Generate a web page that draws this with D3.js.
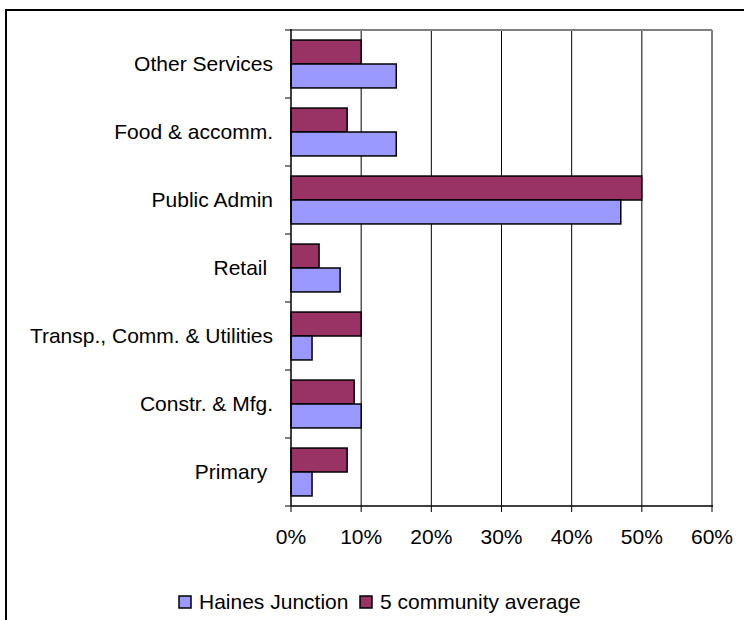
<!DOCTYPE html>
<html>
<head>
<meta charset="utf-8">
<script src="https://cdn.jsdelivr.net/npm/d3@7"></script>
<style>
  body { margin: 0; background: #fff; }
  svg { display: block; }
  text { font-family: "Liberation Sans", Arial, sans-serif; fill: #000; }
</style>
</head>
<body>
<svg id="chart" width="744" height="620"></svg>
<script>
const categories = ["Other Services", "Food & accomm.", "Public Admin", "Retail ", "Transp., Comm. & Utilities", "Constr. & Mfg.", "Primary "];
const hainesJunction = [15, 15, 47, 7, 3, 10, 3];
const communityAverage = [10, 8, 50, 4, 10, 9, 8];
const seriesNames = ["Haines Junction", "5 community average"];
const xTicks = [0, 10, 20, 30, 40, 50, 60];

const colors = { haines: "#9999FF", avg: "#993366" };

const svg = d3.select("#chart");
const plot = { left: 291, right: 712, top: 30, bottom: 506 };
const fontSize = 21;

// outer frame
svg.append("rect").attr("x", 6).attr("y", 10).attr("width", 800).attr("height", 700)
  .attr("fill", "#fff").attr("stroke", "#000").attr("stroke-width", 2);

const x = d3.scaleLinear().domain([0, 60]).range([plot.left, plot.right]);
const y = d3.scaleBand().domain(categories).range([plot.top, plot.bottom]);
const inner = d3.scaleBand().domain(["avg", "haines"]).range([0, y.bandwidth()]).paddingInner(0).paddingOuter(0.42);

// gridlines
svg.append("g").selectAll("line").data(xTicks.slice(1))
  .join("line")
  .attr("x1", d => x(d)).attr("x2", d => x(d))
  .attr("y1", plot.top).attr("y2", plot.bottom)
  .attr("stroke", d => d === 60 ? "#808080" : "#000").attr("stroke-width", d => d === 60 ? 2 : 1);

// plot area top border
svg.append("line").attr("x1", plot.left).attr("x2", plot.right)
  .attr("y1", plot.top).attr("y2", plot.top).attr("stroke", "#808080").attr("stroke-width", 2);

// bars
const rows = categories.map((c, i) => ({ c, haines: hainesJunction[i], avg: communityAverage[i] }));
const g = svg.append("g");
rows.forEach(r => {
  ["avg", "haines"].forEach(k => {
    g.append("rect")
      .attr("x", x(0))
      .attr("y", y(r.c) + inner(k))
      .attr("width", x(r[k]) - x(0))
      .attr("height", inner.bandwidth())
      .attr("fill", colors[k])
      .attr("stroke", "#000").attr("stroke-width", 1.5);
  });
});

// y axis (left)
const yAxis = svg.append("g");
yAxis.append("line").attr("x1", plot.left).attr("x2", plot.left)
  .attr("y1", plot.top - 1).attr("y2", plot.bottom).attr("stroke", "#000").attr("stroke-width", 1.5);
const bounds = categories.map(c => y(c)).concat([plot.bottom]);
yAxis.selectAll("line.tk").data(bounds).join("line").attr("class", "tk")
  .attr("x1", plot.left - 6).attr("x2", plot.left)
  .attr("y1", d => d).attr("y2", d => d).attr("stroke", "#000").attr("stroke-width", 1);
yAxis.selectAll("text").data(categories).join("text")
  .attr("x", 273).attr("y", d => y(d) + y.bandwidth() / 2 + 7)
  .attr("text-anchor", "end").attr("font-size", fontSize)
  .style("white-space", "pre").attr("xml:space", "preserve")
  .text(d => d);

// x axis (bottom)
const xAxis = svg.append("g");
xAxis.append("line").attr("x1", plot.left).attr("x2", plot.right + 1)
  .attr("y1", plot.bottom).attr("y2", plot.bottom).attr("stroke", "#000").attr("stroke-width", 1.5);
xAxis.selectAll("line.tk").data(xTicks).join("line").attr("class", "tk")
  .attr("x1", d => x(d)).attr("x2", d => x(d))
  .attr("y1", plot.bottom).attr("y2", plot.bottom + 6).attr("stroke", "#000");
xAxis.selectAll("text").data(xTicks).join("text")
  .attr("x", d => x(d)).attr("y", 544)
  .attr("text-anchor", "middle").attr("font-size", fontSize)
  .text(d => d + "%");

// legend
const legend = svg.append("g");
const legendItems = [
  { name: seriesNames[0], color: colors.haines, x: 179 },
  { name: seriesNames[1], color: colors.avg, x: 360 }
];
legendItems.forEach(it => {
  legend.append("rect").attr("x", it.x).attr("y", 596).attr("width", 12).attr("height", 12)
    .attr("fill", it.color).attr("stroke", "#000").attr("stroke-width", 1.5);
  legend.append("text").attr("x", it.x + 20).attr("y", 609)
    .attr("font-size", fontSize).text(it.name);
});
</script>
</body>
</html>
